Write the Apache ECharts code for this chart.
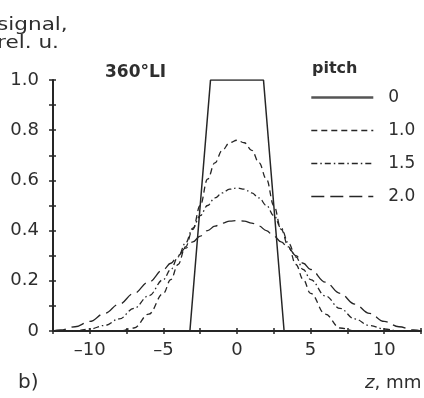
<!DOCTYPE html>
<html>
<head>
<meta charset="utf-8">
<style>
  html, body { margin: 0; padding: 0; background: #fff; }
  #chart { width: 424px; height: 398px; }
</style>
<script src="https://cdn.jsdelivr.net/npm/echarts@6/dist/echarts.min.js"></script>
</head>
<body>
<div id="chart"></div>
<script>
// Longitudinal position along the axis, mm
const zValues = [-12.5, -12, -11, -10, -9, -8, -7, -6,
  -5, -4.5, -4, -3.5, -3, -2.5, -2, -1.5, -1, -0.5, 0, 0.5, 1, 1.5, 2, 2.5, 3, 3.5, 4, 4.5, 5,
  6, 7, 8, 9, 10, 11, 12, 12.5];

// Slice sensitivity profiles, relative units
const pitch10 = [0, 0, 0, 0, 0, 0, 0.012, 0.067,
  0.15, 0.205, 0.265, 0.335, 0.405, 0.50, 0.605, 0.67, 0.72, 0.75, 0.76, 0.75, 0.72, 0.67, 0.605, 0.50, 0.405, 0.335, 0.265, 0.205, 0.15,
  0.067, 0.012, 0, 0, 0, 0, 0, 0];
const pitch15 = [0, 0, 0, 0.008, 0.022, 0.048, 0.09, 0.14,
  0.205, 0.245, 0.295, 0.35, 0.41, 0.46, 0.50, 0.53, 0.55, 0.565, 0.57, 0.565, 0.55, 0.53, 0.50, 0.46, 0.41, 0.35, 0.295, 0.245, 0.205,
  0.14, 0.09, 0.048, 0.022, 0.008, 0, 0, 0];
const pitch20 = [0, 0.004, 0.017, 0.038, 0.07, 0.107, 0.15, 0.195,
  0.245, 0.27, 0.30, 0.33, 0.355, 0.378, 0.40, 0.418, 0.43, 0.438, 0.44, 0.438, 0.43, 0.418, 0.40, 0.378, 0.355, 0.33, 0.30, 0.27, 0.245,
  0.195, 0.15, 0.107, 0.07, 0.038, 0.017, 0.004, 0];

// Pitch 0: trapezoidal profile
const pitch0Z = [-12.5, -3.2, -1.8, 1.8, 3.2, 12.5];
const pitch0Values = [0, 0, 1, 1, 0, 0];

const legendNames = ['0', '1.0', '1.5', '2.0'];
const xLabelSteps = [-10, -5, 0, 5, 10];

function pairs(xs, ys) { return xs.map((x, i) => [x, ys[i]]); }

const ink = '#262626';
const textInk = '#2e2e2e';
const fontFamily = '"DejaVu Sans", Verdana, sans-serif';

const baseX = { type: 'value', min: -12.5, max: 12.5, interval: 2.5, splitLine: { show: false } };
const baseY = { type: 'value', min: 0, max: 1, interval: 0.1, splitLine: { show: false } };

const chart = echarts.init(document.getElementById('chart'), null, { renderer: 'canvas' });

chart.setOption({
  animation: false,
  backgroundColor: '#fff',
  grid: { left: 53, right: 2.5, top: 80, bottom: 67, containLabel: false },
  xAxis: [
    Object.assign({}, baseX, {
      position: 'bottom',
      axisLine: { show: true, onZero: false, lineStyle: { color: ink, width: 2 } },
      axisTick: { show: true, inside: false, length: 3, lineStyle: { color: ink, width: 1.5 } },
      axisLabel: {
        show: true, margin: 10, fontSize: 18, color: textInk, fontFamily,
        formatter: v => xLabelSteps.includes(v) ? (v < 0 ? '\u2013' + Math.abs(v) : String(v)) : ''
      }
    }),
    Object.assign({}, baseX, {
      position: 'bottom',
      axisLine: { show: false, onZero: false },
      axisTick: { show: true, inside: true, length: 3, lineStyle: { color: ink, width: 1.5 } },
      axisLabel: { show: false }
    })
  ],
  yAxis: [
    Object.assign({}, baseY, {
      position: 'left',
      axisLine: { show: true, onZero: false, lineStyle: { color: ink, width: 2 } },
      axisTick: { show: true, inside: false, length: 4, lineStyle: { color: ink, width: 1.5 } },
      axisLabel: {
        show: true, margin: 14, fontSize: 18, color: textInk, fontFamily,
        formatter: v => {
          const k = Math.round(v * 10);
          if (k % 2 !== 0) return '';
          return k === 0 ? '0' : v.toFixed(1);
        }
      }
    }),
    Object.assign({}, baseY, {
      position: 'left',
      axisLine: { show: false, onZero: false },
      axisTick: { show: true, inside: true, length: 3, lineStyle: { color: ink, width: 1.5 } },
      axisLabel: { show: false }
    })
  ],
  legend: {
    orient: 'vertical',
    left: 310,
    top: 89,
    padding: 0,
    itemWidth: 62,
    itemHeight: 16,
    itemGap: 16,
    data: legendNames.map((name, i) => i === 0
      ? { name, lineStyle: { width: 2.6, color: '#555' } }
      : { name, lineStyle: { width: 1.6 } }),
    itemStyle: { opacity: 0, borderWidth: 0 },
    textStyle: { fontSize: 17, color: textInk, fontFamily, padding: [0, 0, 0, 10] }
  },
  graphic: [
    { type: 'text', x: -3, y: 17, scaleX: 1.27, style: { text: 'signal,\nrel. u.', font: '17px ' + fontFamily, fill: textInk, lineHeight: 18 } },
    { type: 'text', x: 105, y: 64, style: { text: '360°LI', font: 'bold 17px ' + fontFamily, fill: textInk } },
    { type: 'text', x: 312, y: 61, style: { text: 'pitch', font: 'bold 16px ' + fontFamily, fill: textInk } },
    { type: 'text', x: 18, y: 373, style: { text: 'b)', font: '20px ' + fontFamily, fill: textInk } },
    { type: 'text', x: 365, y: 375, scaleX: 1.07, style: {
        text: '{i|z}, mm', font: '17px ' + fontFamily, fill: textInk,
        rich: { i: { fontStyle: 'italic', fontSize: 17, fontFamily, fill: textInk } }
      } }
  ],
  series: [
    {
      name: '0', type: 'line', data: pairs(pitch0Z, pitch0Values),
      showSymbol: false, symbol: 'none', color: ink,
      lineStyle: { color: ink, width: 1.5, type: 'solid' }
    },
    {
      name: '1.0', type: 'line', data: pairs(zValues, pitch10),
      showSymbol: false, symbol: 'none', color: ink, smooth: 0.4, smoothMonotone: 'x',
      lineStyle: { color: ink, width: 1.3, type: [6, 4] }
    },
    {
      name: '1.5', type: 'line', data: pairs(zValues, pitch15),
      showSymbol: false, symbol: 'none', color: ink, smooth: 0.4, smoothMonotone: 'x',
      lineStyle: { color: ink, width: 1.3, type: [6, 3, 1.5, 3] }
    },
    {
      name: '2.0', type: 'line', data: pairs(zValues, pitch20),
      showSymbol: false, symbol: 'none', color: ink, smooth: 0.4, smoothMonotone: 'x',
      lineStyle: { color: ink, width: 1.3, type: [13, 6] }
    }
  ]
});
</script>
</body>
</html>
